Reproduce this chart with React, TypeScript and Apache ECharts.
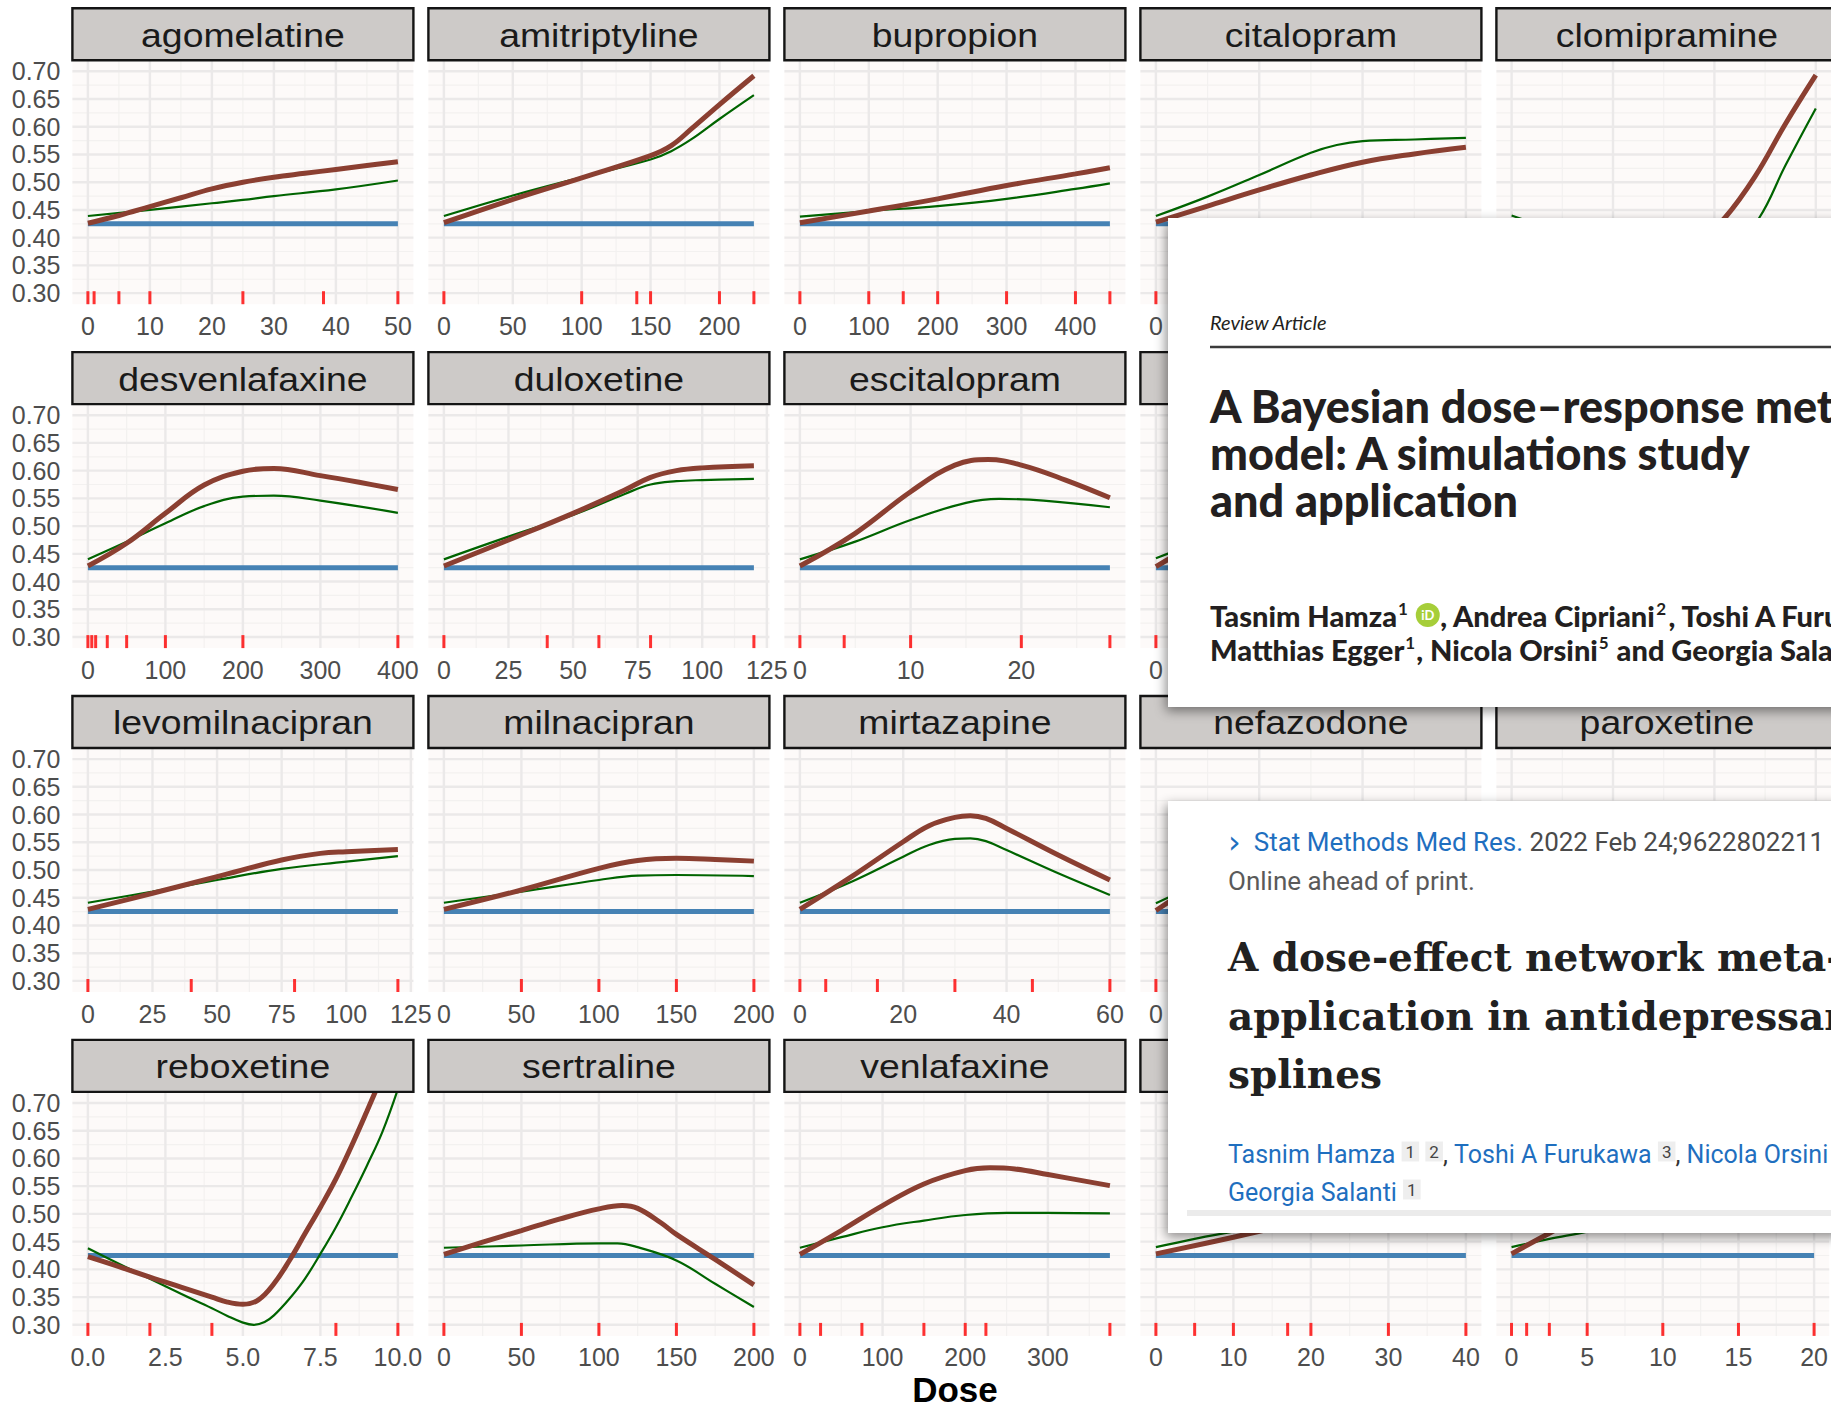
import React, { useEffect, useRef } from "react";
import * as echarts from "echarts";

// ---------------- data ----------------
const DRUGS = [
  "agomelatine", "amitriptyline", "bupropion", "citalopram", "clomipramine",
  "desvenlafaxine", "duloxetine", "escitalopram", "fluoxetine", "fluvoxamine",
  "levomilnacipran", "milnacipran", "mirtazapine", "nefazodone", "paroxetine",
  "reboxetine", "sertraline", "venlafaxine", "vilazodone", "vortioxetine",
];

const MAX_DOSE = [50, 225, 450, 60, 150, 400, 120, 28, 80, 300, 120, 200, 60, 600, 60, 10, 200, 375, 40, 20];

const X_BREAKS = [
  [0, 10, 20, 30, 40, 50],
  [0, 50, 100, 150, 200],
  [0, 100, 200, 300, 400],
  [0, 20, 40, 60],
  [0, 50, 100, 150],
  [0, 100, 200, 300, 400],
  [0, 25, 50, 75, 100, 125],
  [0, 10, 20],
  [0, 20, 40, 60, 80],
  [0, 100, 200, 300],
  [0, 25, 50, 75, 100, 125],
  [0, 50, 100, 150, 200],
  [0, 20, 40, 60],
  [0, 200, 400, 600],
  [0, 20, 40, 60],
  [0, 2.5, 5, 7.5, 10],
  [0, 50, 100, 150, 200],
  [0, 100, 200, 300],
  [0, 10, 20, 30, 40],
  [0, 5, 10, 15, 20],
];

const RUG_DOSES = [
  [0, 1, 5, 10, 25, 38, 50],
  [0, 100, 140, 150, 200, 225],
  [0, 100, 150, 200, 300, 400, 450],
  [0, 10, 20, 30, 40, 60],
  [0, 25, 50, 100, 150],
  [0, 5, 10, 25, 50, 100, 200, 400],
  [0, 40, 60, 80, 120],
  [0, 4, 10, 20, 28],
  [0, 10, 20, 40, 60, 80],
  [0, 50, 100, 150, 200, 300],
  [0, 40, 80, 120],
  [50, 100, 150, 200],
  [0, 5, 15, 30, 45, 60],
  [0, 100, 200, 300, 400, 500, 600],
  [0, 10, 20, 30, 40, 50, 60],
  [0, 2, 4, 8, 10],
  [0, 50, 100, 150, 200],
  [0, 25, 75, 150, 200, 225, 375],
  [0, 5, 10, 17, 20, 30, 40],
  [0, 1, 2.5, 5, 10, 15, 20],
];

// thick brown curve (dose, response)
const BROWN_CURVES = [
  [[0, 0.426], [5, 0.44], [10, 0.456], [15, 0.472], [20, 0.488], [25, 0.5], [30, 0.509], [35, 0.516], [40, 0.523], [45, 0.53], [50, 0.537]],
  [[0, 0.427], [50, 0.469], [100, 0.508], [150, 0.548], [165, 0.566], [180, 0.597], [200, 0.64], [225, 0.692]],
  [[0, 0.427], [100, 0.448], [200, 0.47], [300, 0.494], [400, 0.515], [450, 0.526]],
  [[0, 0.428], [10, 0.457], [20, 0.486], [30, 0.513], [40, 0.536], [50, 0.551], [60, 0.563]],
  [[0, 0.425], [20, 0.405], [40, 0.388], [60, 0.38], [80, 0.385], [95, 0.405], [105, 0.435], [120, 0.51], [135, 0.605], [150, 0.693]],
  [[0, 0.428], [50, 0.469], [100, 0.523], [150, 0.574], [200, 0.599], [240, 0.604], [300, 0.591], [350, 0.579], [400, 0.566]],
  [[0, 0.428], [25, 0.475], [50, 0.523], [70, 0.565], [80, 0.588], [90, 0.6], [100, 0.605], [120, 0.609]],
  [[0, 0.428], [5, 0.487], [10, 0.562], [14, 0.61], [17, 0.62], [20, 0.61], [24, 0.583], [28, 0.551]],
  [[0, 0.427], [20, 0.5], [40, 0.545], [60, 0.565], [80, 0.575]],
  [[0, 0.427], [100, 0.49], [200, 0.53], [300, 0.55]],
  [[0, 0.429], [25, 0.458], [50, 0.488], [75, 0.518], [90, 0.53], [100, 0.533], [120, 0.537]],
  [[0, 0.429], [50, 0.464], [100, 0.503], [125, 0.517], [150, 0.521], [175, 0.519], [200, 0.516]],
  [[0, 0.429], [10, 0.488], [20, 0.551], [25, 0.58], [30, 0.595], [33, 0.598], [36, 0.593], [40, 0.575], [50, 0.527], [60, 0.482]],
  [[0, 0.427], [100, 0.49], [200, 0.56], [340, 0.62], [450, 0.6], [600, 0.55]],
  [[0, 0.427], [10, 0.48], [20, 0.525], [30, 0.545], [40, 0.55], [60, 0.54]],
  [[0, 0.423], [1, 0.405], [2, 0.386], [3, 0.368], [4, 0.35], [4.5, 0.341], [5, 0.337], [5.5, 0.345], [6, 0.374], [6.5, 0.416], [7, 0.464], [7.5, 0.512], [8, 0.563], [8.5, 0.622], [9, 0.685], [9.5, 0.75], [10, 0.815]],
  [[0, 0.427], [25, 0.449], [50, 0.47], [75, 0.491], [100, 0.509], [115, 0.515], [125, 0.51], [140, 0.484], [150, 0.463], [175, 0.418], [200, 0.372]],
  [[0, 0.427], [50, 0.47], [100, 0.515], [150, 0.554], [200, 0.578], [230, 0.583], [260, 0.581], [300, 0.571], [375, 0.551]],
  [[0, 0.428], [10, 0.458], [20, 0.49], [30, 0.52], [40, 0.54]],
  [[0, 0.428], [2.5, 0.465], [5, 0.5], [10, 0.55], [15, 0.575], [20, 0.59]],
];

// thin green curve (dose, response)
const GREEN_CURVES = [
  [[0, 0.439], [10, 0.45], [20, 0.462], [25, 0.468], [30, 0.475], [40, 0.487], [50, 0.503]],
  [[0, 0.439], [50, 0.476], [100, 0.509], [150, 0.541], [165, 0.556], [180, 0.578], [200, 0.614], [225, 0.657]],
  [[0, 0.438], [100, 0.448], [200, 0.457], [300, 0.47], [400, 0.488], [450, 0.498]],
  [[0, 0.439], [10, 0.474], [20, 0.513], [30, 0.553], [35, 0.567], [40, 0.574], [50, 0.577], [60, 0.58]],
  [[0, 0.44], [20, 0.415], [40, 0.392], [60, 0.375], [80, 0.37], [100, 0.382], [112, 0.4], [122, 0.435], [135, 0.53], [150, 0.633]],
  [[0, 0.44], [50, 0.472], [100, 0.505], [150, 0.536], [200, 0.553], [240, 0.555], [300, 0.546], [400, 0.524]],
  [[0, 0.44], [25, 0.481], [50, 0.52], [70, 0.558], [80, 0.575], [90, 0.581], [100, 0.583], [120, 0.585]],
  [[0, 0.44], [5, 0.472], [10, 0.511], [15, 0.542], [18, 0.549], [22, 0.546], [28, 0.534]],
  [[0, 0.442], [20, 0.49], [40, 0.52], [60, 0.53], [80, 0.535]],
  [[0, 0.44], [100, 0.48], [200, 0.51], [300, 0.52]],
  [[0, 0.441], [25, 0.461], [50, 0.482], [75, 0.502], [100, 0.515], [120, 0.525]],
  [[0, 0.441], [50, 0.461], [100, 0.482], [125, 0.49], [150, 0.491], [200, 0.489]],
  [[0, 0.441], [10, 0.479], [20, 0.524], [25, 0.545], [30, 0.556], [33, 0.557], [36, 0.552], [40, 0.536], [50, 0.494], [60, 0.455]],
  [[0, 0.44], [200, 0.52], [340, 0.555], [600, 0.52]],
  [[0, 0.44], [20, 0.5], [40, 0.52], [60, 0.515]],
  [[0, 0.438], [1, 0.41], [2, 0.383], [3, 0.356], [4, 0.33], [4.5, 0.316], [5, 0.304], [5.35, 0.3], [5.7, 0.305], [6, 0.317], [6.5, 0.347], [7, 0.383], [7.5, 0.428], [8, 0.476], [8.5, 0.53], [9, 0.587], [9.5, 0.648], [10, 0.725]],
  [[0, 0.439], [50, 0.443], [100, 0.447], [112, 0.447], [125, 0.44], [150, 0.416], [175, 0.374], [200, 0.332]],
  [[0, 0.439], [50, 0.458], [100, 0.476], [150, 0.488], [200, 0.498], [250, 0.502], [300, 0.502], [375, 0.501]],
  [[0, 0.44], [5, 0.455], [10, 0.468], [20, 0.49], [40, 0.51]],
  [[0, 0.44], [2.5, 0.455], [5, 0.468], [10, 0.5], [15, 0.52], [20, 0.53]],
];

const BLUE_LEVEL = 0.425;
const Y_BREAKS = [0.3, 0.35, 0.4, 0.45, 0.5, 0.55, 0.6, 0.65, 0.7];
const Y_MIN = 0.28;
const Y_MAX = 0.72;

// ---------------- layout / style ----------------
const W = 1831;
const H = 1407;
const PANEL_LEFT = 72.4;
const STEP_X = 356;
const PANEL_W = 341;
const PANEL_TOP = 60.2;
const STEP_Y = 343.9;
const PANEL_H = 244;
const STRIP_H = 52;
const CARD_LEFT = 1168;
const FONT = "'Liberation Sans', Arial, Helvetica, sans-serif";
const BROWN = "#8b3f31";
const GREEN = "#006400";
const BLUE = "#4682b4";
const RUG = "#ff0000";
const PANEL_BG = "#fdfaf9";
const GRID_MAJOR = "#ebe9e9";
const GRID_MINOR = "#f3f1f0";

function minorBreaks(br: number[], lo: number, hi: number): number[] {
  const out: number[] = [];
  const step = br[1] - br[0];
  if (br[0] - step / 2 >= lo) out.push(br[0] - step / 2);
  for (let k = 0; k < br.length - 1; k++) out.push((br[k] + br[k + 1]) / 2);
  const last = br[br.length - 1];
  if (last + step / 2 <= hi) out.push(last + step / 2);
  return out;
}

function vLines(vals: number[]) {
  const d: any[] = [];
  vals.forEach((v) => { d.push([v, Y_MIN], [v, Y_MAX], [v, "-"]); });
  return d;
}
function hLines(vals: number[], lo: number, hi: number) {
  const d: any[] = [];
  vals.forEach((v) => { d.push([lo, v], [hi, v], ["-", v]); });
  return d;
}

function buildOption() {
  const grid: any[] = [];
  const xAxis: any[] = [];
  const yAxis: any[] = [];
  const series: any[] = [];
  const elements: any[] = [];

  const yMinor = minorBreaks(Y_BREAKS, Y_MIN, Y_MAX);

  DRUGS.forEach((name, i) => {
    const row = Math.floor(i / 5);
    const col = i % 5;
    const left = PANEL_LEFT + col * STEP_X;
    const top = PANEL_TOP + row * STEP_Y;
    const max = MAX_DOSE[i];
    const lo = -0.05 * max;
    const hi = 1.05 * max;
    const breaks = X_BREAKS[i];
    const dec = breaks.some((b) => !Number.isInteger(b));
    // rows 1-3 of the two right columns sit under the pasted article cards
    const covered = row < 3 && col >= 3;
    const labelValues = covered
      ? breaks.filter((b) => left + ((b - lo) / (hi - lo)) * PANEL_W < CARD_LEFT - 12)
      : breaks;

    grid.push({ left, top, width: PANEL_W, height: PANEL_H, show: true, backgroundColor: PANEL_BG, borderWidth: 0 });
    xAxis.push({
      type: "value", gridIndex: i, min: lo, max: hi,
      axisLine: { show: false }, axisTick: { show: false }, splitLine: { show: false },
      axisLabel: {
        show: labelValues.length > 0, customValues: labelValues,
        formatter: (v: number) => (dec ? Number(v).toFixed(1) : String(v)),
        fontSize: 25, color: "#4d4d4d", margin: 9, fontFamily: FONT,
      },
    });
    yAxis.push({
      type: "value", gridIndex: i, min: Y_MIN, max: Y_MAX,
      axisLine: { show: false }, axisTick: { show: false }, splitLine: { show: false },
      axisLabel: {
        show: col === 0, customValues: Y_BREAKS,
        formatter: (v: number) => Number(v).toFixed(2),
        fontSize: 25, color: "#4d4d4d", margin: 12, fontFamily: FONT,
      },
    });

    const base = { xAxisIndex: i, yAxisIndex: i, silent: true, animation: false };
    const xMinor = minorBreaks(breaks, lo, hi);
    series.push({ ...base, type: "line", data: [...vLines(xMinor), ...hLines(yMinor, lo, hi)], symbol: "none", showSymbol: false, connectNulls: false, clip: false, lineStyle: { color: GRID_MINOR, width: 1.2 }, z: 1 });
    series.push({ ...base, type: "line", data: [...vLines(breaks.filter((b) => b >= lo && b <= hi)), ...hLines(Y_BREAKS, lo, hi)], symbol: "none", showSymbol: false, connectNulls: false, clip: false, lineStyle: { color: GRID_MAJOR, width: 2.4 }, z: 1 });
    series.push({ ...base, type: "line", name: "reference", data: [[0, BLUE_LEVEL], [max, BLUE_LEVEL]], symbol: "none", showSymbol: false, lineStyle: { color: BLUE, width: 5 }, z: 2 });
    series.push({ ...base, type: "line", name: "model B", data: GREEN_CURVES[i], symbol: "none", showSymbol: false, smooth: 0.4, lineStyle: { color: GREEN, width: 2.2 }, z: 3 });
    series.push({ ...base, type: "line", name: "model A", data: BROWN_CURVES[i], symbol: "none", showSymbol: false, smooth: 0.4, lineStyle: { color: BROWN, width: 5 }, z: 4 });
    series.push({ ...base, type: "scatter", data: RUG_DOSES[i].map((d) => [d, Y_MIN]), symbol: "rect", symbolSize: [3, 13], symbolOffset: [0, -6.5], itemStyle: { color: RUG }, clip: false, z: 5 });

    // facet strip
    elements.push({ type: "rect", silent: true, z: 10, shape: { x: left, y: top - STRIP_H, width: PANEL_W, height: STRIP_H }, style: { fill: "#cdcac8", stroke: "#141414", lineWidth: 2.4 } });
    const stripHidden = (row === 1 || row === 3) && col >= 3;
    if (!stripHidden) {
      elements.push({ type: "text", silent: true, z: 11, x: left + PANEL_W / 2, y: top - STRIP_H / 2 + 1, scaleX: 1.1, style: { text: name, fontSize: 34, fontFamily: FONT, fill: "#1a1a1a", align: "center", verticalAlign: "middle", textAlign: "center", textVerticalAlign: "middle" } });
    }
  });

  // x axis title
  elements.push({ type: "text", silent: true, z: 11, x: 955, y: 1389, style: { text: "Dose", fontSize: 35, lineHeight: 34, fontWeight: "bold", fontFamily: FONT, fill: "#000", align: "center", verticalAlign: "middle", textAlign: "center", textVerticalAlign: "middle" } });

  const shadow = { shadowBlur: 12, shadowColor: "rgba(0,0,0,0.45)", shadowOffsetX: -2, shadowOffsetY: 4 };
  const mid = { verticalAlign: "middle", textVerticalAlign: "middle", align: "left", textAlign: "left" };
  const LATO = "Lato, 'Open Sans', sans-serif";

  // ---- overlay card 1 ----
  elements.push({ type: "rect", silent: true, z: 100, shape: { x: CARD_LEFT, y: 218, width: 720, height: 489 }, style: { fill: "#ffffff", ...shadow } });
  elements.push({ type: "text", silent: true, z: 101, x: 1210, y: 322, style: { text: "Review Article", fontSize: 20, fontStyle: "italic", fontFamily: LATO, fill: "#231f20", ...mid } });
  elements.push({ type: "line", silent: true, z: 101, shape: { x1: 1210, y1: 347, x2: 1880, y2: 347 }, style: { stroke: "#3b3b3b", lineWidth: 2.5 } });
  const t1 = ["A Bayesian dose–response meta-analysis", "model: A simulations study", "and application"];
  t1.forEach((t, k) => {
    elements.push({ type: "text", silent: true, z: 101, x: 1210, y: 406 + k * 47, style: { text: t, fontSize: 45, lineHeight: 42, fontWeight: 900, fontFamily: LATO, fill: "#231f20", ...mid } });
  });
  const authRich = {
    sup: { fontSize: 17, lineHeight: 17, fontWeight: "bold", fontFamily: LATO, fill: "#231f20", color: "#231f20", verticalAlign: "top", padding: [0, 1, 0, 1] },
    orcid: { fontSize: 13, fontWeight: "bold", fontFamily: LATO, fill: "#ffffff", color: "#ffffff", backgroundColor: "#a6ce39", borderRadius: 12, width: 24, height: 24, lineHeight: 24, align: "center" },
  };
  elements.push({ type: "text", silent: true, z: 101, x: 1210, y: 615, style: { text: "Tasnim Hamza{sup|1} {orcid|iD}, Andrea Cipriani{sup|2}, Toshi A Furukawa", fontSize: 29, lineHeight: 30, fontWeight: 900, fontFamily: LATO, fill: "#231f20", rich: authRich, ...mid } });
  elements.push({ type: "text", silent: true, z: 101, x: 1210, y: 649, style: { text: "Matthias Egger{sup|1}, Nicola Orsini{sup|5} and Georgia Salanti", fontSize: 29, lineHeight: 30, fontWeight: 900, fontFamily: LATO, fill: "#231f20", rich: authRich, ...mid } });

  // ---- overlay card 2 ----
  elements.push({ type: "rect", silent: true, z: 100, shape: { x: CARD_LEFT, y: 801, width: 720, height: 432 }, style: { fill: "#ffffff", ...shadow } });
  const ROBOTO = "Roboto, sans-serif";
  const pmRich = {
    chev: { fontSize: 32, fill: "#1f6fbf", color: "#1f6fbf", fontFamily: "'DejaVu Sans', sans-serif" },
    link: { fontSize: 26, fill: "#1f6fbf", color: "#1f6fbf", fontFamily: ROBOTO },
    meta: { fontSize: 26, fill: "#4a4a4a", color: "#4a4a4a", fontFamily: ROBOTO },
    a: { fontSize: 25, fill: "#1f6fbf", color: "#1f6fbf", fontFamily: ROBOTO },
    p: { fontSize: 25, fill: "#333333", color: "#333333", fontFamily: ROBOTO },
    s: { fontSize: 17, fill: "#444444", color: "#444444", fontFamily: ROBOTO, backgroundColor: "#eeeeee", padding: [2, 4, 1, 4], verticalAlign: "top" },
  };
  elements.push({ type: "text", silent: true, z: 101, x: 1228, y: 842, style: { text: "{chev|›}  {link|Stat Methods Med Res.} {meta|2022 Feb 24;9622802211}", fontSize: 26, fontFamily: ROBOTO, fill: "#4a4a4a", rich: pmRich, ...mid } });
  elements.push({ type: "text", silent: true, z: 101, x: 1228, y: 881, style: { text: "Online ahead of print.", fontSize: 26, fontFamily: ROBOTO, fill: "#5a5a5a", ...mid } });
  const t2 = ["A dose-effect network meta-analysis", "application in antidepressants", "splines"];
  t2.forEach((t, k) => {
    elements.push({ type: "text", silent: true, z: 101, x: 1228, y: 957 + k * 58.5, style: { text: t, fontSize: 39, lineHeight: 44, fontWeight: "bold", fontFamily: "'DejaVu Serif', serif", fill: "#212121", ...mid } });
  });
  elements.push({ type: "text", silent: true, z: 101, x: 1228, y: 1154, style: { text: "{a|Tasnim Hamza} {s|1} {s|2}{p|,} {a|Toshi A Furukawa} {s|3}{p|,} {a|Nicola Orsini}", fontSize: 25, fontFamily: ROBOTO, fill: "#1f6fbf", rich: pmRich, ...mid } });
  elements.push({ type: "text", silent: true, z: 101, x: 1228, y: 1192, style: { text: "{a|Georgia Salanti} {s|1}", fontSize: 25, fontFamily: ROBOTO, fill: "#1f6fbf", rich: pmRich, ...mid } });
  elements.push({ type: "rect", silent: true, z: 101, shape: { x: 1187, y: 1210, width: 700, height: 6 }, style: { fill: "#ebebeb" } });

  return {
    animation: false,
    backgroundColor: "#ffffff",
    textStyle: { fontFamily: FONT },
    grid, xAxis, yAxis, series,
    graphic: { elements },
  };
}

export default function App() {
  const ref = useRef<HTMLDivElement>(null);
  useEffect(() => {
    document.body.style.margin = "0";
    if (!ref.current) return;
    const chart = echarts.init(ref.current, undefined, { renderer: "svg", width: W, height: H });
    chart.setOption(buildOption() as any);
    return () => chart.dispose();
  }, []);
  return <div ref={ref} style={{ position: "absolute", left: 0, top: 0, width: W, height: H, overflow: "hidden" }} />;
}
